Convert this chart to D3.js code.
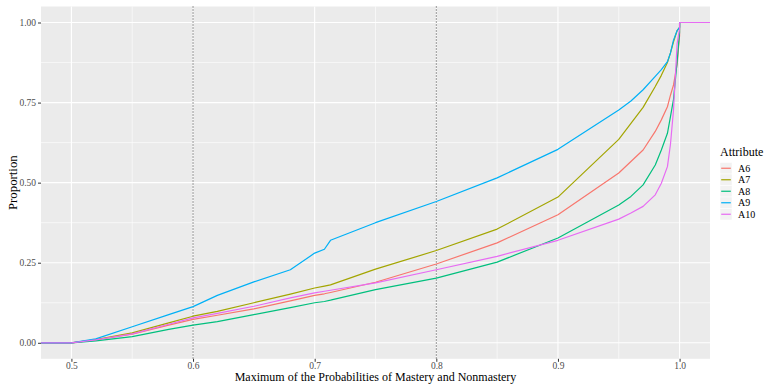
<!DOCTYPE html>
<html lang="en">
<head>
    <meta charset="UTF-8">
    <title>Proportion curves</title>
    <script src="https://cdn.jsdelivr.net/npm/d3@7"></script>
    <style>
        body { margin: 0; background: #fff; }
        text { font-family: "Liberation Serif", "Times New Roman", serif; }
    </style>
</head>
<body>
<div id="chart"></div>
<script>
    // data
    var attributes = ["A6", "A7", "A8", "A9", "A10"];
    var colors = ["#F8766D", "#A3A500", "#00BF7D", "#00B0F6", "#E76BF3"];
    var xs  = [0.475, 0.5, 0.52, 0.55, 0.58, 0.6, 0.62, 0.65, 0.68, 0.7, 0.708, 0.713, 0.75, 0.8, 0.85, 0.9, 0.95, 0.96, 0.97, 0.98, 0.985, 0.99, 0.9925, 0.995, 0.998, 1.0, 1.0, 1.025];
    var a6  = [0, 0, 0.009, 0.027, 0.055, 0.073, 0.086, 0.106, 0.131, 0.148, 0.153, 0.157, 0.189, 0.246, 0.312, 0.400, 0.530, 0.566, 0.602, 0.660, 0.696, 0.737, 0.773, 0.805, 0.870, 0.960, 1, 1];
    var a7  = [0, 0, 0.010, 0.031, 0.062, 0.083, 0.098, 0.125, 0.152, 0.171, 0.177, 0.181, 0.230, 0.288, 0.355, 0.455, 0.635, 0.685, 0.735, 0.800, 0.835, 0.875, 0.905, 0.940, 0.975, 0.985, 1, 1];
    var a8  = [0, 0, 0.006, 0.019, 0.042, 0.055, 0.066, 0.088, 0.110, 0.125, 0.129, 0.133, 0.166, 0.202, 0.252, 0.327, 0.430, 0.457, 0.493, 0.555, 0.602, 0.654, 0.706, 0.760, 0.880, 0.970, 1, 1];
    var a9  = [0, 0, 0.012, 0.050, 0.088, 0.113, 0.148, 0.190, 0.228, 0.280, 0.292, 0.320, 0.375, 0.441, 0.515, 0.604, 0.727, 0.755, 0.790, 0.832, 0.853, 0.878, 0.905, 0.945, 0.975, 0.985, 1, 1];
    var a10 = [0, 0, 0.009, 0.028, 0.058, 0.078, 0.092, 0.114, 0.140, 0.156, 0.161, 0.164, 0.187, 0.228, 0.270, 0.320, 0.386, 0.405, 0.426, 0.462, 0.498, 0.550, 0.620, 0.727, 0.935, 0.980, 1, 1];
    var series = [a6, a7, a8, a9, a10];
    var xTicks = [0.5, 0.6, 0.7, 0.8, 0.9, 1.0];
    var xMinor = [0.55, 0.65, 0.75, 0.85, 0.95];
    var yTicks = [0, 0.25, 0.5, 0.75, 1.0];
    var yMinor = [0.125, 0.375, 0.625, 0.875];
    var refLines = [0.6, 0.8];

    var width = 767, height = 384;
    var panel = {left: 41, right: 710, top: 6.5, bottom: 358.8};

    var svg = d3.select("#chart").append("svg")
        .attr("width", width).attr("height", height);

    var x = d3.scaleLinear().domain([0.475, 1.025]).range([panel.left, panel.right]);
    var y = d3.scaleLinear().domain([-0.05, 1.05]).range([panel.bottom, panel.top]);

    // panel background
    svg.append("rect")
        .attr("x", panel.left).attr("y", panel.top)
        .attr("width", panel.right - panel.left).attr("height", panel.bottom - panel.top)
        .attr("fill", "#EBEBEB");

    // grid: minor then major
    var grid = svg.append("g");
    grid.selectAll(".vminor").data(xMinor).enter().append("line")
        .attr("x1", d => x(d)).attr("x2", d => x(d))
        .attr("y1", panel.top).attr("y2", panel.bottom)
        .attr("stroke", "#fff").attr("stroke-width", 0.6);
    grid.selectAll(".hminor").data(yMinor).enter().append("line")
        .attr("y1", d => y(d)).attr("y2", d => y(d))
        .attr("x1", panel.left).attr("x2", panel.right)
        .attr("stroke", "#fff").attr("stroke-width", 0.6);
    grid.selectAll(".vmajor").data(xTicks).enter().append("line")
        .attr("x1", d => x(d)).attr("x2", d => x(d))
        .attr("y1", panel.top).attr("y2", panel.bottom)
        .attr("stroke", "#fff").attr("stroke-width", 1.1);
    grid.selectAll(".hmajor").data(yTicks).enter().append("line")
        .attr("y1", d => y(d)).attr("y2", d => y(d))
        .attr("x1", panel.left).attr("x2", panel.right)
        .attr("stroke", "#fff").attr("stroke-width", 1.1);

    // dotted reference lines
    svg.append("g").selectAll("line").data(refLines).enter().append("line")
        .attr("x1", d => x(d)).attr("x2", d => x(d))
        .attr("y1", panel.top).attr("y2", panel.bottom)
        .attr("stroke", "#333").attr("stroke-width", 1)
        .attr("stroke-dasharray", "1,2");

    // curves
    var line = d3.line()
        .x((d, i) => x(xs[i]))
        .y(d => y(d));
    svg.append("g").selectAll("path").data(series).enter().append("path")
        .attr("d", line)
        .attr("fill", "none")
        .attr("stroke", (d, i) => colors[i])
        .attr("stroke-width", 1.2)
        .attr("stroke-linejoin", "round");

    // axes
    var xAxis = d3.axisBottom(x).tickValues(xTicks).tickFormat(d3.format(".1f")).tickSize(3).tickPadding(0);
    var yAxis = d3.axisLeft(y).tickValues(yTicks).tickFormat(d3.format(".2f")).tickSize(3).tickPadding(2);

    var gx = svg.append("g").attr("transform", "translate(0," + panel.bottom + ")").call(xAxis);
    var gy = svg.append("g").attr("transform", "translate(" + panel.left + ",0)").call(yAxis);
    [gx, gy].forEach(function (g) {
        g.select(".domain").remove();
        g.selectAll(".tick line").attr("stroke", "#333");
        g.selectAll(".tick text").attr("fill", "#4D4D4D")
            .style("font-family", "Liberation Serif").style("font-size", "9.5px");
    });

    // axis titles
    svg.append("text")
        .attr("x", (panel.left + panel.right) / 2).attr("y", 381.2)
        .attr("text-anchor", "middle")
        .style("font-size", "12px")
        .text("Maximum of the Probabilities of Mastery and Nonmastery");
    svg.append("text")
        .attr("transform", "translate(16.5," + ((panel.top + panel.bottom) / 2) + ") rotate(-90)")
        .attr("text-anchor", "middle")
        .style("font-size", "12.8px")
        .text("Proportion");

    // legend
    var legend = svg.append("g").attr("transform", "translate(720,0)");
    legend.append("text").attr("x", 0).attr("y", 156)
        .style("font-size", "12px").text("Attribute");
    var keyH = 11.5;
    var items = legend.selectAll(".item").data(attributes).enter().append("g")
        .attr("transform", (d, i) => "translate(0," + (162.5 + i * keyH) + ")");
    items.append("rect")
        .attr("width", 12).attr("height", keyH)
        .attr("fill", "#F2F2F2").attr("stroke", "#fff").attr("stroke-width", 0.5);
    items.append("line")
        .attr("x1", 1.2).attr("x2", 10.8)
        .attr("y1", keyH / 2).attr("y2", keyH / 2)
        .attr("stroke", (d, i) => colors[i]).attr("stroke-width", 1.2);
    items.append("text")
        .attr("x", 18).attr("y", keyH / 2 + 3.5)
        .style("font-size", "10px")
        .text(d => d);
</script>
</body>
</html>
